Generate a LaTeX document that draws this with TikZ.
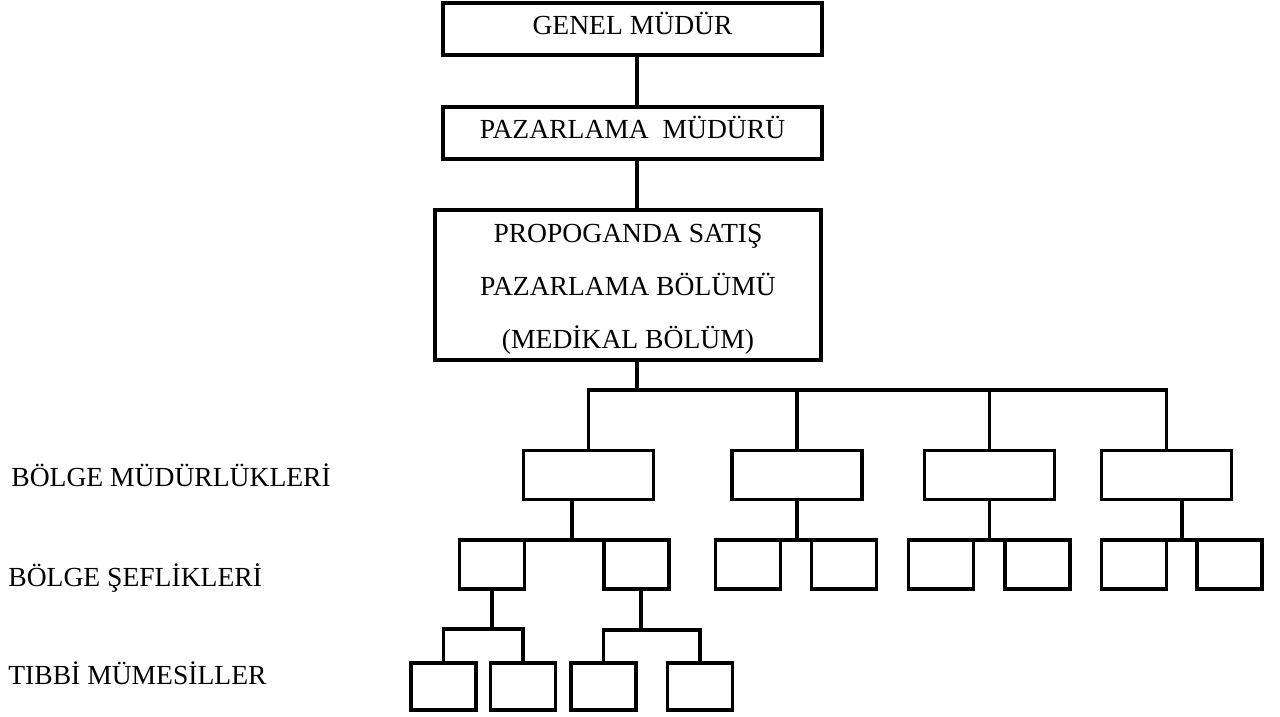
\documentclass[tikz,border=0pt]{standalone}
\usepackage{fontspec}
\setmainfont{Liberation Serif}
\usepackage{tikz}

\begin{document}
\begin{tikzpicture}[x=0.02cm, y=-0.02cm,
      every node/.style={font=\fontsize{15.7}{30.2}\selectfont},
      orgbox/.style={draw, line width=1.8pt, inner sep=0pt, outer sep=0pt},
      topbox/.style={orgbox, minimum width=7.58cm, text height=0.64cm, text depth=0.40cm},
      regbox/.style={orgbox, minimum width=2.6cm, minimum height=0.97cm},
      chiefbox/.style={orgbox, minimum width=1.3cm, minimum height=0.98cm},
      repbox/.style={orgbox, minimum width=1.3cm, minimum height=0.94cm},
      lbl/.style={anchor=base west, inner sep=0pt},
      conn/.style={line width=1.8pt}
    ]
    \useasboundingbox (0,0) rectangle (1280,716);

    \node[topbox] (gm) at (632.5,29)  {GENEL MÜDÜR};
    \node[topbox] (pm) at (632.5,133) {PAZARLAMA\ \ MÜDÜRÜ};
    \node[orgbox, minimum width=7.72cm, minimum height=3.0cm, align=center]
          (prop) at (628,285) {\rule{0pt}{15pt}PROPOGANDA SATIŞ\\PAZARLAMA BÖLÜMÜ\\(MEDİKAL BÖLÜM)};

    % Level names
    \node[lbl] (lreg)   at (11,486) {BÖLGE MÜDÜRLÜKLERİ};
    \node[lbl] (lchief) at (8,586)  {BÖLGE ŞEFLİKLERİ};
    \node[lbl] (lrep)   at (8,684)  {TIBBİ MÜMESİLLER};

    % Regional offices
    \node[regbox] (bm1) at (588.5,475)  {};
    \node[regbox] (bm2) at (797,475)    {};
    \node[regbox] (bm3) at (989.5,475)  {};
    \node[regbox] (bm4) at (1166.5,475) {};

    \node[chiefbox] (sa1) at (492,564.5)    {};
    \node[chiefbox] (sa2) at (636.5,564.5)  {};
    \node[chiefbox] (sb1) at (748,564.5)    {};
    \node[chiefbox] (sb2) at (844,564.5)    {};
    \node[chiefbox] (sc1) at (941,564.5)    {};
    \node[chiefbox] (sc2) at (1037.5,564.5) {};
    \node[chiefbox] (sd1) at (1134,564.5)   {};
    \node[chiefbox] (sd2) at (1229.5,564.5) {};

    \node[repbox] (ta1) at (443.5,686.5) {};
    \node[repbox] (ta2) at (523,686.5)   {};
    \node[repbox] (tb1) at (603.5,686.5) {};
    \node[repbox] (tb2) at (700,686.5)   {};

    % Spine and bus
    \coordinate (spine) at (637,0);
    \coordinate (bus)   at (637,390);
    \draw[conn] (gm.south -| spine) -- (pm.north -| spine);
    \draw[conn] (pm.south -| spine) -- (prop.north -| spine);
    \draw[conn] (prop.south -| bus) -- (bus);
    \foreach \b in {bm1,bm2,bm3,bm4}
      \draw[conn] (\b) |- (bus);

    % Chiefs
    \coordinate (ja) at (572,540);
    \coordinate (jd) at (1182,540);
    \draw[conn] (ja |- bm1.south) -- (ja);
    \draw[conn] (bm2) -- (bm2 |- sb1.north);
    \draw[conn] (bm3) -- (bm3 |- sc1.north);
    \draw[conn] (jd |- bm4.south) -- (jd);
    \draw[conn] (sa1.north east) -- (sa2.north west);
    \draw[conn] (sb1.north east) -- (sb2.north west);
    \draw[conn] (sc1.north east) -- (sc2.north west);
    \draw[conn] (sd1.north east) -- (sd2.north west);

    % Representatives
    \coordinate (ka) at (492,629);
    \coordinate (kb) at (641,630);
    \draw[conn] (sa1) -- (ka);
    \draw[conn] (ta1) |- (ka) -| (ta2);
    \draw[conn] (kb |- sa2.south) -- (kb);
    \draw[conn] (tb1) |- (kb) -| (tb2);
  \end{tikzpicture}
\end{document}
